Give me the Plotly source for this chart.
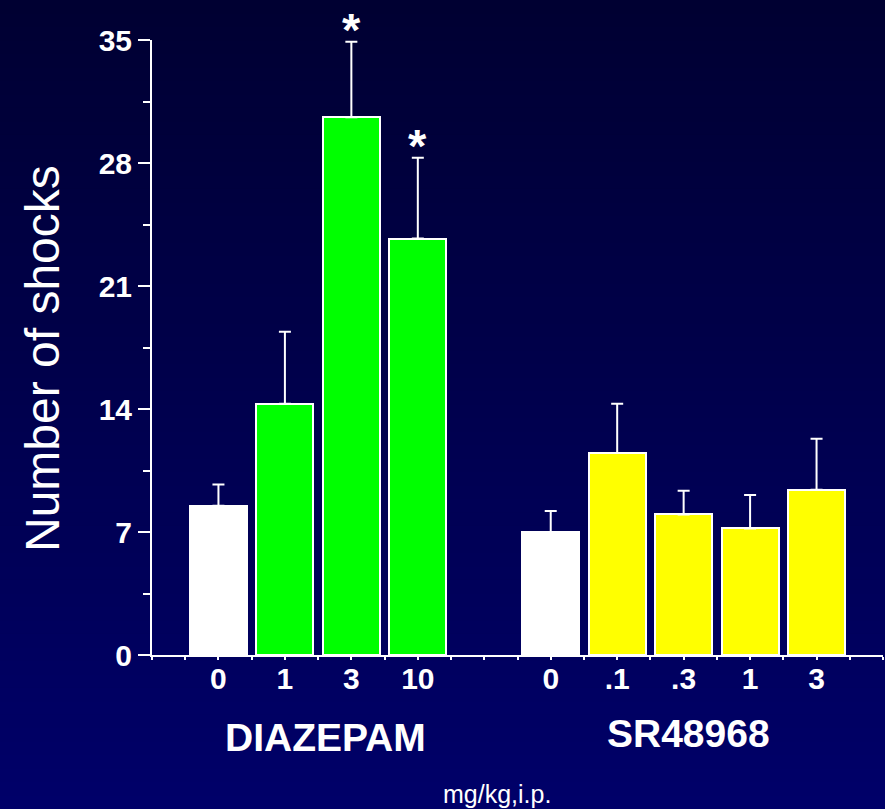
import plotly.graph_objects as go

# data
diaz_doses = ["0", "1", "3", "10"]
diaz_means = [8.5, 14.3, 30.6, 23.7]
diaz_sem = [1.2, 4.1, 4.3, 4.6]

sr_doses = ["0", ".1", ".3", "1", "3"]
sr_means = [7.0, 11.5, 8.0, 7.2, 9.4]
sr_sem = [1.2, 2.8, 1.35, 1.9, 2.9]

diaz_pos = [0, 1, 2, 3]
sr_pos = [5, 6, 7, 8, 9]
signif = [False, False, True, True]

W, H = 885, 809
M_L, M_R, M_T, M_B = 152, 2, 40, 154
PW, PH = W - M_L - M_R, H - M_T - M_B

WHITE = "#ffffff"
GREEN = "#00ff00"
YELLOW = "#ffff00"
FONT = "Liberation Sans, Arial, sans-serif"


def px_x(p):
    return (p - M_L) / PW


def px_y(p):
    return (H - M_B - p) / PH


fig = go.Figure()

# control bar (white) + treated bars for each drug
for pos, means, sem, colors in [
    (diaz_pos, diaz_means, diaz_sem, [WHITE] + [GREEN] * 3),
    (sr_pos, sr_means, sr_sem, [WHITE] + [YELLOW] * 4),
]:
    fig.add_trace(go.Bar(
        x=pos, y=means, width=0.86,
        marker=dict(color=colors, line=dict(color=WHITE, width=2)),
        error_y=dict(type="data", array=sem, arrayminus=[0] * len(sem),
                     symmetric=False, color=WHITE, thickness=2, width=6),
        showlegend=False, hoverinfo="x+y",
    ))

# vertical gradient background (dark navy -> blue)
shapes = []
n = 60
for i in range(n):
    y0 = i * H / n
    y1 = (i + 1) * H / n
    b = int(50 + (106 - 50) * (i + 0.5) / n)
    shapes.append(dict(type="rect", xref="paper", yref="paper", layer="below",
                       x0=px_x(0), x1=px_x(W), y0=px_y(y1 + 1), y1=px_y(y0),
                       line=dict(width=0), fillcolor=f"rgb(0,0,{b})"))

annotations = []
for p, m, s, sig in zip(diaz_pos, diaz_means, diaz_sem, signif):
    if sig:
        annotations.append(dict(x=p, y=m + s, xref="x", yref="y", text="<b>*</b>",
                                showarrow=False, xanchor="center", yanchor="middle",
                                yshift=12,
                                font=dict(size=47, color=WHITE, family=FONT)))


def label(text, x, y, size, angle=0):
    return dict(text=text, x=px_x(x), y=px_y(y), xref="paper", yref="paper",
                xanchor="center", yanchor="middle", textangle=angle,
                showarrow=False, font=dict(size=size, color=WHITE, family=FONT))


annotations += [
    label("<b>DIAZEPAM</b>", 325, 737, 39),
    label("<b>SR48968</b>", 688, 733, 39),
    label("mg/kg,i.p.", 497, 794, 25),
    label("Number of shocks", 42, 359, 48, angle=-90),
]

fig.update_layout(
    width=W, height=H,
    margin=dict(l=M_L, r=M_R, t=M_T, b=M_B),
    paper_bgcolor="rgb(0,0,60)",
    plot_bgcolor="rgba(0,0,0,0)",
    font=dict(family=FONT, color=WHITE),
    bargap=0, barmode="overlay",
    shapes=shapes, annotations=annotations,
)
fig.update_xaxes(
    range=[-1, 10], showgrid=False, zeroline=False,
    showline=True, linecolor=WHITE, linewidth=2,
    tickvals=diaz_pos + sr_pos,
    ticktext=[f"<b>{d}</b>" for d in diaz_doses + sr_doses],
    ticks="outside", ticklen=3, tickwidth=2, tickcolor=WHITE,
    tickfont=dict(size=30, color=WHITE, family=FONT), ticklabelstandoff=-7,
    minor=dict(tickmode="linear", tick0=-1, dtick=0.5, ticks="outside",
               ticklen=3, tickwidth=2, tickcolor=WHITE),
)
fig.update_yaxes(
    range=[0, 35], showgrid=False, zeroline=False,
    showline=True, linecolor=WHITE, linewidth=2,
    tickvals=[0, 7, 14, 21, 28, 35],
    ticktext=["<b>0</b>", "<b>7</b>", "<b>14</b>", "<b>21</b>", "<b>28</b>", "<b>35</b>"],
    ticks="outside", ticklen=12, tickwidth=2, tickcolor=WHITE,
    tickfont=dict(size=30, color=WHITE, family=FONT), ticklabelstandoff=0,
    minor=dict(tickmode="linear", tick0=0, dtick=3.5, ticks="outside",
               ticklen=7, tickwidth=2, tickcolor=WHITE),
)

fig.write_html("out.html", config={"displayModeBar": False},
               post_script="document.body.style.margin='0';"
                           "document.body.style.overflow='hidden';")
